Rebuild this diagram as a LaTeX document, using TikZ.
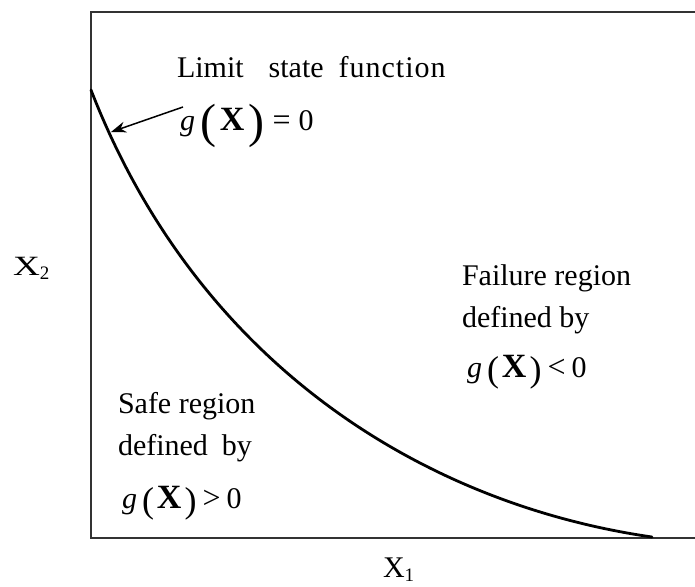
\documentclass[tikz,border=0pt]{standalone}
\usepackage{fontspec}
\setmainfont{Liberation Serif}
\usetikzlibrary{arrows.meta}
\newcommand{\pfs}[3]{{\fontsize{#1}{#1}\selectfont\raisebox{#2}{#3}}}
\newcommand{\bX}{{\fontsize{34}{34}\selectfont\textbf{X}}}
% #1 paren size, #2 raise, #3 gap inside parens, #4 relation, #5 gap around relation
\newcommand{\gexpr}[5]{\textit{g}\hspace{5pt}\pfs{#1}{#2}{(}\hspace{#3}\bX\hspace{#3}\pfs{#1}{#2}{)}\hspace{#5}{\fontsize{32}{32}\selectfont #4}\hspace{#5}0}
\tikzset{
  lbl/.style={anchor=base west, inner sep=0pt, outer sep=0pt, font=\fontsize{30}{30}\selectfont},
  frame/.style={draw=black!80, line width=1.8pt},
  lsf/.style={line width=2.8pt, line cap=round},
  pointer/.style={line width=1.5pt, -{Stealth[length=15pt,width=11pt]}}
}
\begin{document}
\begin{tikzpicture}[x=1pt,y=-1pt]
\useasboundingbox (0,0) rectangle (695,586);
% frame (open on the right)
\draw[frame] (695,12) -- (91,12) -- (91,538) -- (695,538);
% limit state curve
\coordinate (c0) at (91,90);
\coordinate (c3) at (652,537);
\draw[lsf] (c0) .. controls (200,370) and (430,505) .. (c3);
% labels
\node[lbl] (lsf) at (177,77) {Limit\hspace{25pt}state\hspace{15pt}f\hspace{1pt}u\hspace{1pt}n\hspace{1pt}c\hspace{1pt}t\hspace{1pt}i\hspace{1pt}o\hspace{1pt}n};
\node[lbl] (gzero) at (180,130) {\gexpr{48}{-7pt}{4pt}{=}{8pt}};
\coordinate (tip) at (111,132);
\coordinate (astart) at (183,107);
\draw[pointer] (astart) -- (tip);
\node[lbl] (f1) at (462,285) {Failure region};
\node[lbl] (f2) at (462,327) {defined by};
\node[lbl] (f3) at (467,377) {\gexpr{36}{-4pt}{3pt}{<}{6pt}};
\node[lbl] (s1) at (118,413) {Safe region};
\node[lbl] (s2) at (118,455) {defined\hspace{14pt}by};
\node[lbl] (s3) at (122,508) {\gexpr{36}{-4pt}{3pt}{>}{6pt}};
\node[lbl, font=\fontsize{31}{31}\selectfont] (x2) at (13,275) {\scalebox{1.2}[0.9]{X}\raisebox{-4pt}{\fontsize{19}{19}\selectfont 2}};
\node[lbl] (x1) at (383,577) {X\raisebox{-4pt}{\fontsize{19}{19}\selectfont 1}};
\end{tikzpicture}
\end{document}
